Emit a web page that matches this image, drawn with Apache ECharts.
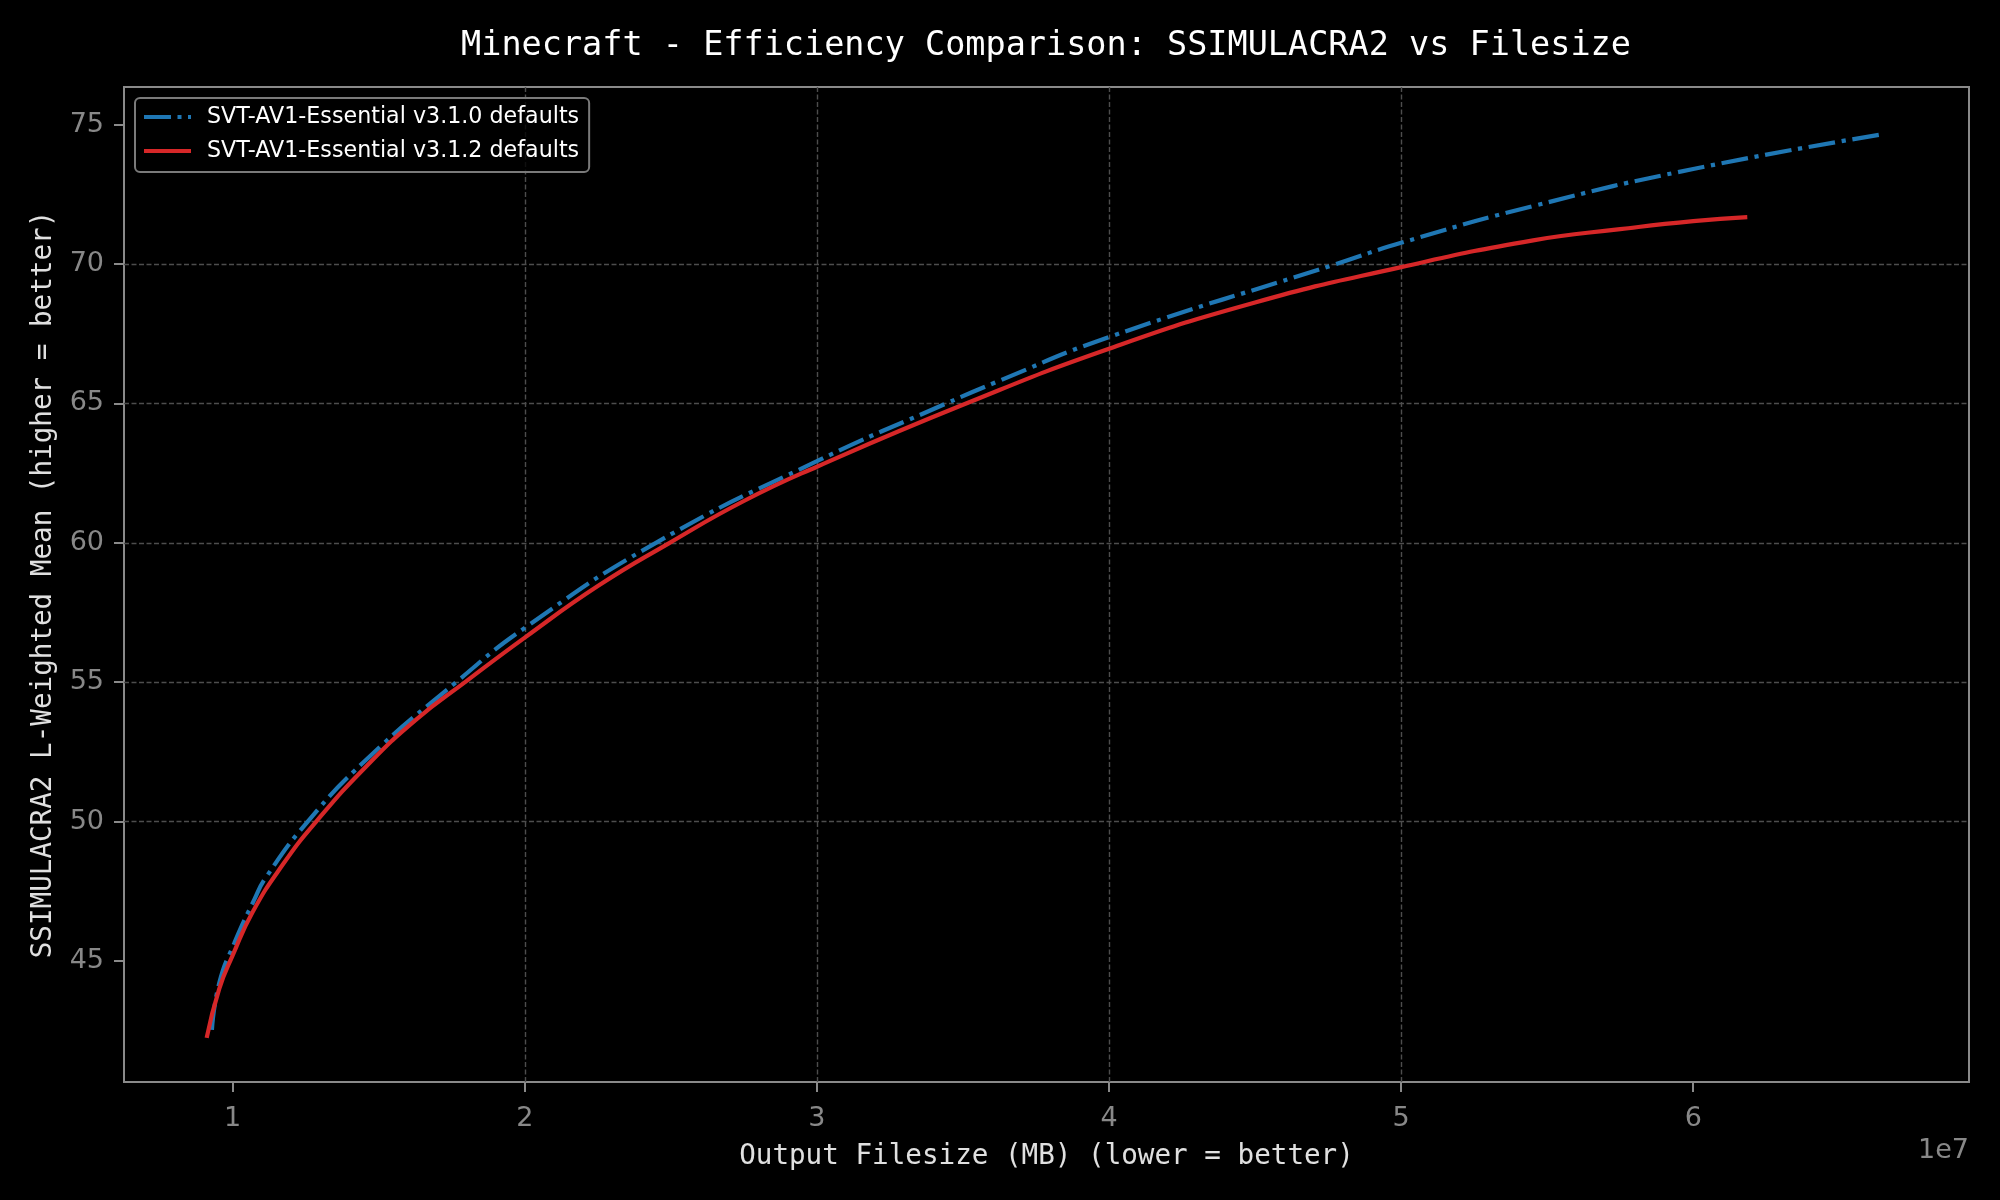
<!DOCTYPE html>
<html><head><meta charset="utf-8">
<script src="https://cdn.jsdelivr.net/npm/echarts@6/dist/echarts.min.js"></script>
<style>html,body{margin:0;padding:0;background:#000;}#c{width:2000px;height:1200px;}</style>
</head><body><div id="c"></div>
<script>
const titleText = 'Minecraft - Efficiency Comparison: SSIMULACRA2 vs Filesize';
const xAxisName = 'Output Filesize (MB) (lower = better)';
const yAxisName = 'SSIMULACRA2 L-Weighted Mean (higher = better)';
const offsetText = '1e7';
const seriesNames = ['SVT-AV1-Essential v3.1.0 defaults', 'SVT-AV1-Essential v3.1.2 defaults'];
const xTicks = [10000000, 20000000, 30000000, 40000000, 50000000, 60000000];
const yTicks = [45, 50, 55, 60, 65, 70, 75];

const v310Size  = [9290000, 9540000, 10060000, 10740000, 11140000, 12570000, 14570000, 17650000, 20000000, 24490000, 30000000, 34430000, 36080000, 40000000, 47780000, 50000000, 54520000, 60000000, 66570000];
const v310Score = [42.53, 44.21, 45.65, 47.2, 48.0, 50.0, 52.22, 55.0, 56.95, 60.0, 62.93, 65.0, 65.74, 67.38, 70.0, 70.76, 72.08, 73.41, 74.67];

const v312Size  = [9110000, 9540000, 10000000, 10680000, 11710000, 12860000, 14570000, 16280000, 17990000, 20000000, 22500000, 24960000, 27500000, 30000000, 35000000, 40000000, 45000000, 50000000, 54520000, 57500000, 60000000, 61850000];
const v312Score = [42.24, 44.0, 45.2, 46.75, 48.45, 50.0, 51.98, 53.66, 55.03, 56.6, 58.45, 60.0, 61.5, 62.73, 64.95, 66.96, 68.62, 69.89, 70.85, 71.25, 71.54, 71.68];

const mono = '"DejaVu Sans Mono", monospace';
const sans = '"DejaVu Sans", sans-serif';

const chart = echarts.init(document.getElementById('c'));
chart.setOption({
  backgroundColor: '#000',
  animation: false,
  title: [
    { text: titleText, left: 1046, textAlign: 'center', top: 29, padding: 0,
      textStyle: { fontFamily: mono, fontSize: 33.5, fontWeight: 'normal', color: '#ffffff' } },
    { text: offsetText, right: 31, top: 1137, padding: 0,
      textStyle: { fontFamily: sans, fontSize: 27, fontWeight: 'normal', color: '#888888' } }
  ],
  legend: {
    left: 135, top: 98, orient: 'vertical',
    padding: [8, 10, 10, 9],
    itemGap: 12, itemWidth: 47, itemHeight: 4,
    symbolKeepAspect: false,
    backgroundColor: 'rgba(0,0,0,0.8)', borderColor: '#7a7a7a', borderWidth: 2, borderRadius: 5,
    itemStyle: { borderWidth: 0 },
    textStyle: { color: '#ffffff', fontFamily: sans, fontSize: 22.2, lineHeight: 22, padding: [0, 0, 0, 11] },
    data: [
      { name: seriesNames[0], icon: 'path://M0,0H27V4H0ZM33.5,0H37.5V4H33.5ZM44,0H47V4H44Z' },
      { name: seriesNames[1], icon: 'rect' }
    ]
  },
  grid: { left: 124, top: 87, right: 31, bottom: 118, show: true, borderColor: '#8a8a8a', borderWidth: 2, backgroundColor: '#000' },
  xAxis: {
    type: 'value', min: 6280000, max: 69440000, minInterval: 10000000, maxInterval: 10000000,
    name: xAxisName, nameLocation: 'middle', nameGap: 61,
    nameTextStyle: { fontFamily: mono, fontSize: 27.6, color: '#e0e0e0' },
    axisLine: { show: false },
    axisTick: { show: true, length: 10, inside: false, customValues: xTicks, lineStyle: { color: '#8a8a8a', width: 2 } },
    axisLabel: { customValues: xTicks, formatter: v => String(Math.round(v / 1e7)), color: '#888888', fontFamily: sans, fontSize: 27, margin: 23 },
    splitLine: { show: true, showMinLine: false, showMaxLine: false, lineStyle: { color: '#4d4d4d', width: 1.4, type: [5, 2.5] } }
  },
  yAxis: {
    type: 'value', min: 40.66, max: 76.35, minInterval: 5, maxInterval: 5,
    name: yAxisName, nameLocation: 'middle', nameGap: 66,
    nameTextStyle: { fontFamily: mono, fontSize: 27.6, color: '#e0e0e0' },
    axisLine: { show: false },
    axisTick: { show: true, length: 10, inside: false, customValues: yTicks, lineStyle: { color: '#8a8a8a', width: 2 } },
    axisLabel: { customValues: yTicks, color: '#888888', fontFamily: sans, fontSize: 27, margin: 20 },
    splitLine: { show: true, showMinLine: false, showMaxLine: false, lineStyle: { color: '#4d4d4d', width: 1.4, type: [5, 2.5] } }
  },
  series: [
    { name: seriesNames[0], type: 'line', data: v310Size.map((x, i) => [x, v310Score[i]]),
      showSymbol: false, symbol: 'none', smooth: 0.5, z: 2,
      itemStyle: { color: '#1f77b4' },
      lineStyle: { color: '#1f77b4', width: 4.2, type: [26.7, 6.7, 4.2, 6.7], cap: 'butt' } },
    { name: seriesNames[1], type: 'line', data: v312Size.map((x, i) => [x, v312Score[i]]),
      showSymbol: false, symbol: 'none', smooth: 0.5, z: 3,
      itemStyle: { color: '#d62728' },
      lineStyle: { color: '#d62728', width: 4.2 } }
  ]
});
</script></body></html>
